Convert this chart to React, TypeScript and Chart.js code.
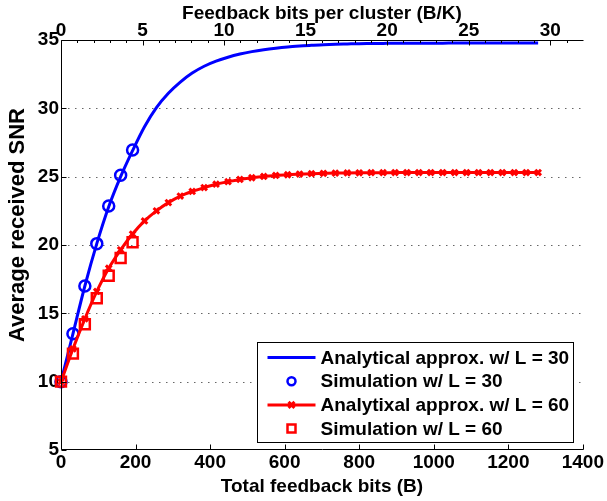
import { useEffect, useRef } from 'react';
import { Chart, registerables } from 'chart.js';

Chart.register(...registerables);

// ---- data ----
const bits = [0, 32, 64, 96, 128, 160, 192, 224, 256, 288, 320, 352, 384, 416, 448, 480, 512, 544, 576, 608, 640, 672, 704, 736, 768, 800, 832, 864, 896, 928, 960, 992, 1024, 1056, 1088, 1120, 1152, 1184, 1216, 1248, 1280];
const analyticL30 = [10, 13.5, 17.0, 20.1, 22.8, 25.0, 26.9, 28.65, 30.05, 31.1, 31.92, 32.58, 33.08, 33.45, 33.74, 33.97, 34.15, 34.29, 34.4, 34.49, 34.56, 34.62, 34.66, 34.69, 34.71, 34.73, 34.74, 34.75, 34.76, 34.76, 34.77, 34.77, 34.77, 34.78, 34.78, 34.78, 34.78, 34.78, 34.78, 34.78, 34.78];
const analyticL60 = [10, 12.4, 14.6, 16.6, 18.3, 19.65, 20.8, 21.76, 22.5, 23.1, 23.58, 23.92, 24.2, 24.45, 24.63, 24.8, 24.92, 25.02, 25.09, 25.14, 25.19, 25.22, 25.24, 25.26, 25.27, 25.28, 25.29, 25.29, 25.3, 25.3, 25.3, 25.3, 25.3, 25.3, 25.3, 25.3, 25.3, 25.3, 25.3, 25.3, 25.3];
const simBits = [0, 32, 64, 96, 128, 160, 192];
const simL30 = [10, 13.5, 17.0, 20.1, 22.85, 25.1, 26.95];
const simL60 = [10, 12.05, 14.2, 16.1, 17.75, 19.05, 20.2];

const bottomTicks = [0, 200, 400, 600, 800, 1000, 1200, 1400];
const topTicks = [0, 5, 10, 15, 20, 25, 30];
const topMinorTicks = [1, 2, 3, 4, 6, 7, 8, 9, 11, 12, 13, 14, 16, 17, 18, 19, 21, 22, 23, 24, 26, 27, 28, 29, 31];
const yTicks = [5, 10, 15, 20, 25, 30, 35];
const gridTicks = [10, 15, 20, 25, 30];

const seriesLabels = [
  'Analytical approx. w/ L = 30',
  'Simulation w/ L = 30',
  'Analytixal approx. w/ L = 60',
  'Simulation w/ L = 60',
];
const xTitle = 'Total feedback bits (B)';
const x2Title = 'Feedback bits per cluster (B/K)';
const yTitle = 'Average received SNR';

const FONT = "'Liberation Sans', Arial, sans-serif";
const BLUE = '#0000ff';
const RED = '#ff0000';

const framePlugin = {
  id: 'frame',
  beforeDatasetsDraw(chart: any) {
    const { ctx, chartArea: a, scales } = chart;
    const y = scales.y;
    ctx.save();
    ctx.strokeStyle = '#666';
    ctx.lineWidth = 1;
    ctx.setLineDash([1.5, 5.5]);
    for (const v of gridTicks) {
      const py = Math.round(y.getPixelForValue(v)) + 0.5;
      ctx.beginPath();
      ctx.moveTo(a.left, py);
      ctx.lineTo(a.right, py);
      ctx.stroke();
    }
    ctx.restore();
  },
  afterDatasetsDraw(chart: any) {
    const { ctx, chartArea: a, scales } = chart;
    const x = scales.x;
    const x2 = scales.x2;
    const y = scales.y;
    ctx.save();
    ctx.strokeStyle = '#000';
    ctx.lineWidth = 1;
    ctx.setLineDash([]);
    const L = Math.round(a.left) + 0.5;
    const R = Math.round(a.right) + 0.5;
    const T = Math.round(a.top) + 0.5;
    const B = Math.round(a.bottom) - 0.5;
    ctx.beginPath();
    ctx.moveTo(L, T); ctx.lineTo(R, T);
    ctx.moveTo(L, T); ctx.lineTo(L, B);
    ctx.moveTo(L, B); ctx.lineTo(R, B);
    for (const v of bottomTicks) {
      const px = Math.round(x.getPixelForValue(v)) + 0.5;
      ctx.moveTo(px, B); ctx.lineTo(px, B - 5);
    }
    for (const v of topTicks) {
      const px = Math.round(x2.getPixelForValue(v)) + 0.5;
      ctx.moveTo(px, T); ctx.lineTo(px, T + 5);
    }
    for (const v of topMinorTicks) {
      const px = Math.round(x2.getPixelForValue(v)) + 0.5;
      ctx.moveTo(px, T); ctx.lineTo(px, T + 2.5);
    }
    for (const v of yTicks) {
      const py = Math.round(y.getPixelForValue(v)) + 0.5;
      ctx.moveTo(L, py); ctx.lineTo(L + 5, py);
    }
    ctx.stroke();

    // y axis title
    ctx.save();
    ctx.translate(18, (a.top + a.bottom) / 2 - 20);
    ctx.rotate(-Math.PI / 2);
    ctx.fillStyle = '#000';
    ctx.font = `bold 22px ${FONT}`;
    ctx.textAlign = 'center';
    ctx.textBaseline = 'middle';
    ctx.fillText(yTitle, 0, 0);
    ctx.restore();

    // legend
    const ds = chart.data.datasets;
    ctx.font = `bold 19px ${FONT}`;
    let maxW = 0;
    for (const d of ds) maxW = Math.max(maxW, ctx.measureText(d.label).width);
    const boxRight = Math.round(a.right) - 10 + 0.5;
    const boxBottom = Math.round(a.bottom) - 8 + 0.5;
    const boxW = Math.round(63 + maxW + 4);
    const boxH = 100;
    const boxLeft = boxRight - boxW;
    const boxTop = boxBottom - boxH;
    ctx.fillStyle = '#fff';
    ctx.fillRect(boxLeft, boxTop, boxW, boxH);
    ctx.strokeStyle = '#000';
    ctx.lineWidth = 1;
    ctx.strokeRect(boxLeft, boxTop, boxW, boxH);
    const rowGap = 23.7;
    const firstRow = boxTop + 15;
    ds.forEach((d: any, i: number) => {
      const cy = firstRow + i * rowGap;
      const sx0 = boxLeft + 10;
      const sx1 = boxLeft + 58;
      const cx = (sx0 + sx1) / 2;
      ctx.save();
      if (d.showLine !== false) {
        ctx.strokeStyle = d.borderColor;
        ctx.lineWidth = d.borderWidth;
        ctx.beginPath();
        ctx.moveTo(sx0, cy); ctx.lineTo(sx1, cy);
        ctx.stroke();
      }
      if (d.pointRadius > 0) {
        ctx.strokeStyle = d.pointBorderColor;
        ctx.lineWidth = d.pointBorderWidth;
        ctx.beginPath();
        if (d.pointStyle === 'circle') {
          ctx.arc(cx, cy, 4, 0, Math.PI * 2);
        } else if (d.pointStyle === 'rect') {
          ctx.rect(cx - 4, cy - 4, 8, 8);
        } else if (d.pointStyle === 'crossRot') {
          const r = 3;
          ctx.moveTo(cx - r, cy - r); ctx.lineTo(cx + r, cy + r);
          ctx.moveTo(cx - r, cy + r); ctx.lineTo(cx + r, cy - r);
        }
        ctx.stroke();
      }
      ctx.fillStyle = '#000';
      ctx.textAlign = 'left';
      ctx.textBaseline = 'middle';
      ctx.font = `bold 19px ${FONT}`;
      ctx.fillText(d.label, boxLeft + 63, cy + 1);
      ctx.restore();
    });
    ctx.restore();
  },
};

const tickFont = { family: FONT, size: 19, weight: 'bold' as const, lineHeight: 1 };
const plain = (v: any) => String(v);

export default function App() {
  const ref = useRef<HTMLCanvasElement | null>(null);
  useEffect(() => {
    if (!ref.current) return;
    const chart = new Chart(ref.current, {
      type: 'line',
      data: {
        datasets: [
          {
            label: seriesLabels[0],
            data: bits.map((b, i) => ({ x: b, y: analyticL30[i] })),
            borderColor: BLUE,
            borderWidth: 3,
            pointRadius: 0,
            pointBorderColor: BLUE,
            pointBorderWidth: 0,
            cubicInterpolationMode: 'monotone',
            fill: false,
            order: 3,
          } as any,
          {
            label: seriesLabels[1],
            data: simBits.map((b, i) => ({ x: b, y: simL30[i] })),
            showLine: false,
            pointStyle: 'circle',
            pointRadius: 5.5,
            pointBorderWidth: 2.5,
            pointBorderColor: BLUE,
            pointBackgroundColor: 'rgba(0,0,0,0)',
            borderColor: BLUE,
            order: 2,
          },
          {
            label: seriesLabels[2],
            data: bits.map((b, i) => ({ x: b, y: analyticL60[i] })),
            borderColor: RED,
            borderWidth: 3,
            pointStyle: 'crossRot',
            pointRadius: 4,
            pointBorderWidth: 3,
            pointBorderColor: RED,
            pointBackgroundColor: RED,
            cubicInterpolationMode: 'monotone',
            fill: false,
            order: 1,
          },
          {
            label: seriesLabels[3],
            data: simBits.map((b, i) => ({ x: b, y: simL60[i] })),
            showLine: false,
            pointStyle: 'rect',
            pointRadius: 7,
            pointBorderWidth: 2.5,
            pointBorderColor: RED,
            pointBackgroundColor: 'rgba(0,0,0,0)',
            borderColor: RED,
            order: 0,
          },
        ],
      },
      options: {
        animation: false,
        responsive: false,
        devicePixelRatio: 1,
        clip: false as any,
        layout: { padding: { left: 0, right: 22, top: 0, bottom: 0 } },
        plugins: { legend: { display: false }, tooltip: { enabled: false } },
        scales: {
          x: {
            type: 'linear',
            position: 'bottom',
            min: 0,
            max: 1400,
            afterBuildTicks: (s: any) => { s.ticks = bottomTicks.map((v) => ({ value: v })); },
            afterFit: (s: any) => { s.height = 51; },
            grid: { display: false, drawTicks: false },
            border: { display: false },
            ticks: { font: tickFont, color: '#000', padding: 3, maxRotation: 0, autoSkip: false, callback: plain },
            title: { display: true, text: xTitle, color: '#000', font: tickFont, padding: { top: 0, bottom: 5 } },
          },
          x2: {
            type: 'linear',
            axis: 'x',
            position: 'top',
            min: 0,
            max: 32,
            afterBuildTicks: (s: any) => { s.ticks = topTicks.map((v) => ({ value: v })); },
            afterFit: (s: any) => { s.height = 40; },
            grid: { display: false, drawTicks: false },
            border: { display: false },
            ticks: { font: tickFont, color: '#000', padding: 0, maxRotation: 0, autoSkip: false, callback: plain },
            title: { display: true, text: x2Title, color: '#000', font: tickFont, padding: { top: 4, bottom: 0 } },
          },
          y: {
            type: 'linear',
            position: 'left',
            min: 5,
            max: 35,
            afterBuildTicks: (s: any) => { s.ticks = yTicks.map((v) => ({ value: v })); },
            afterFit: (s: any) => { s.width = 61; },
            grid: { display: false, drawTicks: false },
            border: { display: false },
            ticks: { font: tickFont, color: '#000', padding: 2, callback: plain },
            title: { display: false, text: yTitle },
          },
        },
      } as any,
      plugins: [framePlugin],
    });
    return () => chart.destroy();
  }, []);
  return (
    <div style={{ position: 'fixed', left: 0, top: 0, width: 607, height: 501, background: '#fff' }}>
      <canvas ref={ref} width={607} height={501} style={{ display: 'block', width: 607, height: 501 }} />
    </div>
  );
}
